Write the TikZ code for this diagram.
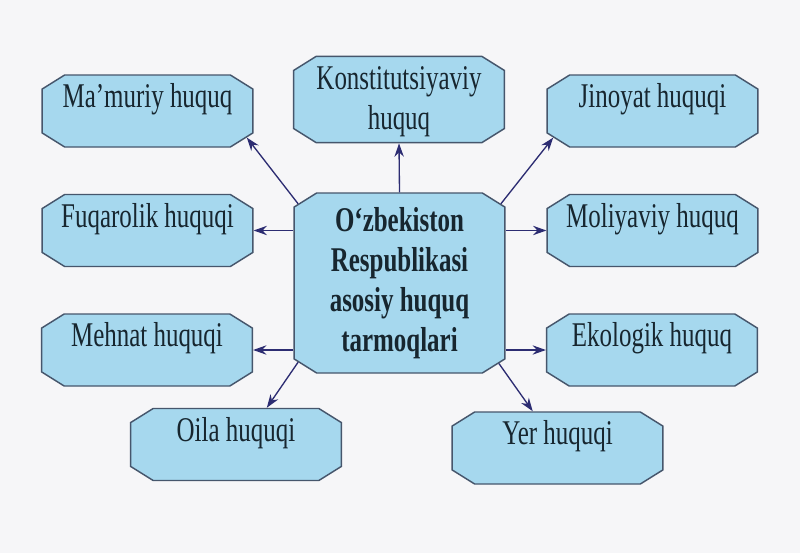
\documentclass[tikz,border=0pt]{standalone}
\usepackage{fontspec}
\setmainfont{Liberation Serif}[FakeStretch=0.72]
\usetikzlibrary{shapes.misc,arrows.meta}
\definecolor{boxfill}{HTML}{A6D8EE}
\definecolor{boxline}{HTML}{46566C}
\definecolor{arrowblue}{HTML}{2C2C72}
\definecolor{textdark}{HTML}{17262F}
\definecolor{paper}{HTML}{F6F6F8}
\tikzset{
  branch/.style={draw=boxline, line width=1.1pt, fill=boxfill, chamfered rectangle,
    chamfered rectangle angle=58, chamfered rectangle xsep=1.5pt, chamfered rectangle ysep=9.6pt,
    minimum width=158pt, minimum height=54pt, inner xsep=4pt, inner ysep=0pt,
    text height=15pt, text depth=19.8pt, align=center, text=textdark,
    font=\fontsize{26}{30.5}\selectfont},
  core/.style={branch, minimum height=135pt, text height=, text depth=,
    font=\fontsize{26}{30}\selectfont\bfseries},
  link/.style={draw=arrowblue, line width=1pt, -{Stealth[length=10pt,width=7pt]}}
}
\begin{document}
\begin{tikzpicture}[x=0.75pt,y=-0.75pt]
  \fill[paper] (0,0) rectangle (800,553);
  \useasboundingbox (0,0) rectangle (800,553);

  \node[core] (c) at (399.5,283) {O‘zbekiston\\Respublikasi\\asosiy huquq\\tarmoqlari};

  \node[branch] (mam) at (147.5,111) {Ma’muriy huquq};
  \node[branch] (fuq) at (147.5,230.5) {Fuqarolik huquqi};
  \node[branch] (meh) at (147,350) {Mehnat huquqi};
  \node[branch] (oil) at (236,444.5) {Oila huquqi};
  \node[branch, minimum height=63.75pt, text height=45.5pt, text depth=0pt] (kon) at (399,99.5) {Konstitutsiyaviy\\huquq};
  \node[branch] (jin) at (652.5,111) {Jinoyat huquqi};
  \node[branch] (mol) at (652.5,230.5) {Moliyaviy huquq};
  \node[branch] (eko) at (652,350) {Ekologik huquq};
  \node[branch] (yer) at (557.5,448) {Yer huquqi};

  \draw[link] (c.142.5) -- (mam.-15);
  \draw[link] (c.west |- fuq.east) -- (fuq.east);
  \draw[link] (c.west |- meh.east) -- (meh.east);
  \draw[link] (c.218.7) -- (oil.50);
  \draw[link] (c.north) -- (kon.south);
  \draw[link] (c.38.3) -- (jin.195);
  \draw[link] (c.east |- mol.west) -- (mol.west);
  \draw[link] (c.east |- eko.west) -- (eko.west);
  \draw[link] (c.-39.3) -- (yer.124.6);
\end{tikzpicture}
\end{document}
